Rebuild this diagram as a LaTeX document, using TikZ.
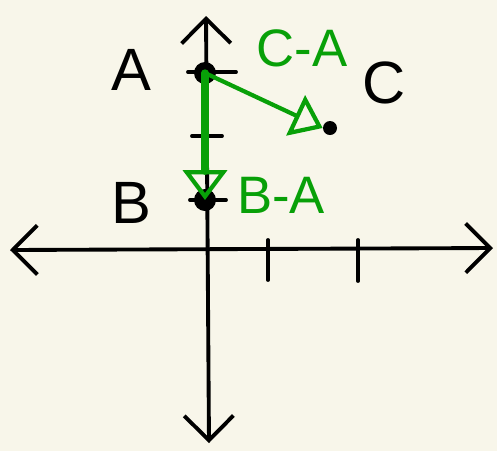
\documentclass[tikz,border=0pt]{standalone}
\usepackage{fontspec}
\setsansfont{Liberation Sans}
\usetikzlibrary{arrows.meta}
\definecolor{paper}{RGB}{248,246,234}
\definecolor{pen}{RGB}{8,160,8}

\begin{document}
\begin{tikzpicture}[
x=0.02cm, y=-0.02cm,
dot/.style={circle,fill=black,inner sep=0pt,minimum size=0.44cm},
sdot/.style={circle,fill=black,inner sep=0pt,minimum size=0.28cm},
lbl/.style={font=\sffamily\fontsize{34}{38}\selectfont},
vlbl/.style={font=\sffamily\fontsize{30}{34}\selectfont,text=pen},
axis/.style={{Straight Barb[length=14pt,width=28pt,line width=2.2pt]}-{Straight Barb[length=14pt,width=28pt,line width=2.2pt]},line width=2.2pt,line cap=round},
tick/.style={line width=2.2pt,line cap=round},
vec/.style={-{Triangle[open,length=17pt,width=25pt,line width=2.4pt]},draw=pen,line cap=round} ]

\fill[paper] (0,0) rectangle (497,451);
\useasboundingbox (0,0) rectangle (497,451);

\coordinate (xl) at (10,250);
\coordinate (xr) at (493,248);
\coordinate (yt) at (206,16);
\coordinate (yb) at (209,443);

\draw[axis] (xl) -- (xr);
\draw[axis] (yt) -- (yb);

% ticks
\draw[tick] (268,240) -- (268,280);
\draw[tick] (358,240) -- (358,281);
\draw[tick] (188,72) -- (236,72);
\draw[tick] (192,136) -- (222,136);
\draw[tick] (190,200) -- (226,200);

\node[dot] (A) at (205,73) {};
\node[dot] (B) at (205,200) {};
\node[sdot] (C) at (330,128) {};

\node[lbl] (Alabel) at (131,70) {A};
\node[lbl] (Blabel) at (131,203) {B};
\node[lbl] (Clabel) at (384,83) {C};

\draw[vec,line width=4.2pt] (A.center) -- (B.center);
\draw[vec,line width=2.4pt] (A.center) -- (C.west);

\node[vlbl] (CA) at (302,48) {C-A};
\node[vlbl] (BA) at (281,195) {B-A};

\end{tikzpicture}
\end{document}
